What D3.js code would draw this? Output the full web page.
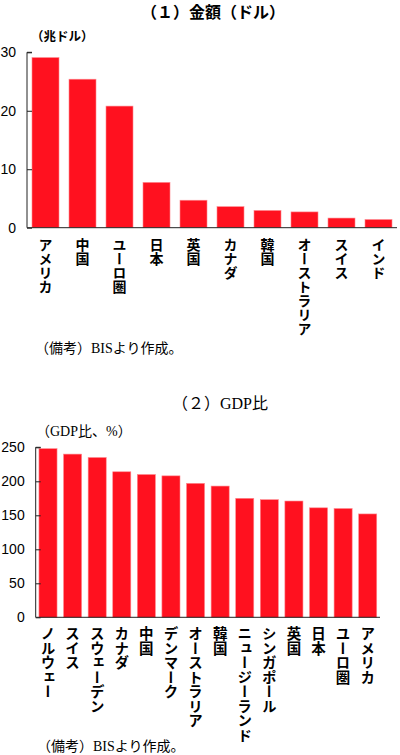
<!DOCTYPE html>
<html>
<head>
<meta charset="utf-8">
<script src="https://cdn.jsdelivr.net/npm/d3@7"></script>
<style>
  body { margin: 0; background: #fff; }
  svg text { font-family: "Noto Sans CJK JP", sans-serif; }
  .tick-num { font-family: "Liberation Sans", Arial, sans-serif; font-size: 14px; fill: #000; }
  .serif { font-family: "Liberation Serif", "Noto Sans CJK JP", serif; }
  .note { font-family: "Liberation Serif", "Noto Sans CJK JP", serif; font-size: 14px; }
</style>
</head>
<body>
<div id="chart"></div>
<script>
// (1) 金額（兆ドル）
var amountCountries = ["アメリカ", "中国", "ユーロ圏", "日本", "英国", "カナダ", "韓国", "オーストラリア", "スイス", "インド"];
var amountValues = [29.1, 25.4, 20.8, 7.75, 4.7, 3.6, 2.95, 2.7, 1.65, 1.4];
var amountTicks = [0, 10, 20, 30];

// (2) GDP比（%）
var ratioCountries = ["ノルウェー", "スイス", "スウェーデン", "カナダ", "中国", "デンマーク", "オーストラリア", "韓国", "ニュージーランド", "シンガポール", "英国", "日本", "ユーロ圏", "アメリカ"];
var ratioValues = [248, 240, 235, 214, 210, 208, 197, 193, 175, 173, 171, 161, 160, 152];
var ratioTicks = [0, 50, 100, 150, 200, 250];

var width = 400;
var height = 755;
var barColor = "#ff111f";

var svg = d3.select("#chart").append("svg")
    .attr("width", width)
    .attr("height", height);

function drawChart(g, opt) {
  var x = d3.scaleBand()
      .domain(opt.categories)
      .range([opt.left, opt.right])
      .paddingInner(opt.padding)
      .paddingOuter(opt.padding / 2);

  var y = d3.scaleLinear()
      .domain([0, opt.max])
      .range([opt.bottom, opt.top]);

  // title
  g.append("text")
      .attr("class", opt.serif ? "serif" : null)
      .attr("x", opt.titleX)
      .attr("y", opt.titleY)
      .attr("text-anchor", "middle")
      .attr("font-size", "16px")
      .attr("font-weight", opt.serif ? "normal" : "bold")
      .text(opt.title);

  // unit
  g.append("text")
      .attr("class", opt.serif ? "serif" : null)
      .attr("x", opt.unitX)
      .attr("y", opt.unitY)
      .attr("font-size", opt.unitSize)
      .attr("font-weight", opt.serif ? "normal" : "bold")
      .text(opt.unit);

  // bars
  g.append("g").selectAll("rect")
      .data(opt.values)
      .enter().append("rect")
      .attr("x", function(d, i) { return x(opt.categories[i]); })
      .attr("y", function(d) { return y(d); })
      .attr("width", x.bandwidth())
      .attr("height", function(d) { return y(0) - y(d); })
      .attr("fill", barColor)
      .attr("stroke", "#ff8a90")
      .attr("stroke-width", 0.6);

  // y axis, ticks inside
  var yAxis = g.append("g")
      .attr("transform", "translate(" + opt.left + ",0)")
      .call(d3.axisRight(y).tickValues(opt.ticks).tickSize(5).tickFormat(""));
  yAxis.select(".domain").attr("d", "M5," + opt.top + "H0V" + opt.bottom);
  yAxis.selectAll("line").attr("stroke", "#222");
  yAxis.select(".domain").attr("stroke", "#222");

  g.append("g").selectAll("text")
      .data(opt.ticks)
      .enter().append("text")
      .attr("class", "tick-num")
      .attr("x", opt.left - 11)
      .attr("y", function(d) { return y(d); })
      .attr("dy", "0.36em")
      .attr("text-anchor", "end")
      .text(function(d) { return d; });

  // x axis line
  g.append("line")
      .attr("x1", opt.left)
      .attr("x2", opt.right)
      .attr("y1", y(0))
      .attr("y2", y(0))
      .attr("stroke", "#222");

  // vertical category labels
  g.append("g").selectAll("text")
      .data(opt.categories)
      .enter().append("text")
      .attr("x", function(d) { return x(d) + x.bandwidth() / 2; })
      .attr("y", y(0) + opt.labelGap)
      .style("writing-mode", "vertical-rl")
      .attr("font-size", opt.labelSize)
      .attr("font-weight", "bold")
      .text(function(d) { return d; });

  // note
  g.append("text")
      .attr("class", "note")
      .attr("x", opt.noteX)
      .attr("y", opt.noteY)
      .text("（備考）BISより作成。");
}

drawChart(svg.append("g"), {
  categories: amountCountries,
  values: amountValues,
  ticks: amountTicks,
  max: 30,
  left: 27, right: 397, top: 52.3, bottom: 227.7,
  padding: 0.27,
  title: "（１）金額（ドル）", titleX: 213, titleY: 18,
  unit: "（兆ドル）", unitX: 31, unitY: 41, unitSize: "12.5px",
  labelGap: 10, labelSize: "14px",
  noteX: 35, noteY: 353
});

drawChart(svg.append("g"), {
  categories: ratioCountries,
  values: ratioValues,
  ticks: ratioTicks,
  max: 250,
  left: 35.7, right: 380, top: 447.3, bottom: 617.3,
  padding: 0.265,
  serif: true,
  title: "（２）GDP比", titleX: 220, titleY: 409,
  unit: "（GDP比、%）", unitX: 36, unitY: 436, unitSize: "14px",
  labelGap: 9, labelSize: "14.5px",
  noteX: 37, noteY: 751
});
</script>
</body>
</html>
